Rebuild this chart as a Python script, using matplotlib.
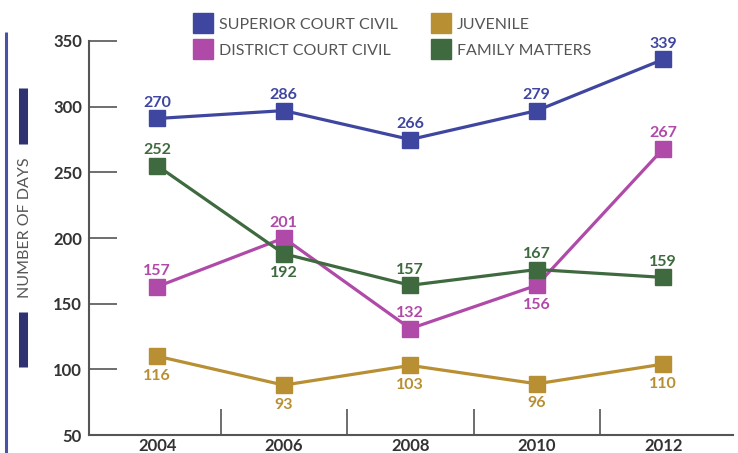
import matplotlib.pyplot as plt
from matplotlib.lines import Line2D

plt.rcParams['font.family'] = ['Lato', 'DejaVu Sans']

years = ['2004', '2006', '2008', '2010', '2012']
yticks = [50, 100, 150, 200, 250, 300, 350]

# where the points sit on the chart's value axis
superior_pos = [291, 297, 275, 297, 336]
district_pos = [163, 200, 131, 164, 268]
juvenile_pos = [110, 88, 103, 89, 104]
family_pos = [255, 188, 164, 176, 170]

# printed labels
superior_lbl = [270, 286, 266, 279, 339]
district_lbl = [157, 201, 132, 156, 267]
juvenile_lbl = [116, 93, 103, 96, 110]
family_lbl = [252, 192, 157, 167, 159]

# label placement: 1 above, -1 below
superior_side = [1, 1, 1, 1, 1]
district_side = [1, 1, 1, -1, 1]
juvenile_side = [-1, -1, -1, -1, -1]
family_side = [1, -1, 1, 1, 1]

c_sup = '#3f46a0'
c_dis = '#b04aa8'
c_juv = '#b88f33'
c_fam = '#3f6a3f'

fig = plt.figure(figsize=(7.38, 4.53), dpi=100)
ax = fig.add_axes([0.1206, 0.0397, 0.8724, 0.8698])

x = list(range(len(years)))
series = [
    ('SUPERIOR COURT CIVIL', superior_pos, superior_lbl, superior_side, c_sup),
    ('DISTRICT COURT CIVIL', district_pos, district_lbl, district_side, c_dis),
    ('JUVENILE', juvenile_pos, juvenile_lbl, juvenile_side, c_juv),
    ('FAMILY MATTERS', family_pos, family_lbl, family_side, c_fam),
]

for name, pos, lbl, side, col in series:
    ax.plot(x, pos, color=col, lw=2.3, marker='s', markersize=11.5, zorder=3)
    for xi, yi, li, si in zip(x, pos, lbl, side):
        off = 11 if si > 0 else -14
        ax.annotate(str(li), (xi, yi), xytext=(0, off), textcoords='offset points',
                    ha='center', va='center', fontsize=11.5, fontweight='bold', color=col)

ax.set_xlim(-0.54, 4.55)
ax.set_ylim(50, 350)
ax.set_yticks(yticks)
ax.set_xticks(x)
ax.set_xticklabels(years)
ax.set_xticks([0.5, 1.5, 2.5, 3.5], minor=True)

for s in ['top', 'right']:
    ax.spines[s].set_visible(False)
for s in ['left', 'bottom']:
    ax.spines[s].set_color('#555555')
    ax.spines[s].set_linewidth(1.5)

ax.tick_params(axis='y', direction='in', length=20, width=1.2, color='#555555',
               pad=5, labelsize=12, labelcolor='#333333')
ax.tick_params(axis='x', which='major', length=0, pad=2, labelsize=12, labelcolor='#333333')
ax.tick_params(axis='x', which='minor', direction='in', length=19, width=1.2, color='#555555')
for t in ax.get_xticklabels() + ax.get_yticklabels():
    t.set_fontweight('bold')

# y label with decorative bars
fig.text(0.034, 0.497, 'NUMBER OF DAYS', rotation=90, ha='center', va='center',
         fontsize=11.5, color='#555555')
fig.add_artist(Line2D([0.0305, 0.0305], [1 - 88 / 453, 1 - 144 / 453],
                      color='#2e3270', lw=6.5, solid_capstyle='butt'))
fig.add_artist(Line2D([0.0305, 0.0305], [1 - 312 / 453, 1 - 367 / 453],
                      color='#2e3270', lw=6.5, solid_capstyle='butt'))
fig.add_artist(Line2D([0.0088, 0.0088], [0, 1 - 32 / 453],
                      color='#4a52a8', lw=2.2, solid_capstyle='butt'))

handles = [Line2D([], [], ls='none', marker='s', markersize=15, color=c)
           for _, _, _, _, c in series]
fig.legend(handles, [s[0] for s in series], ncol=2, loc='upper left',
           bbox_to_anchor=(0.245, 0.993), frameon=False, fontsize=11.5,
           labelcolor='#555555', handlelength=1.0, handletextpad=0.5,
           columnspacing=2.2, labelspacing=0.75)

plt.savefig('out.png', dpi=100)
